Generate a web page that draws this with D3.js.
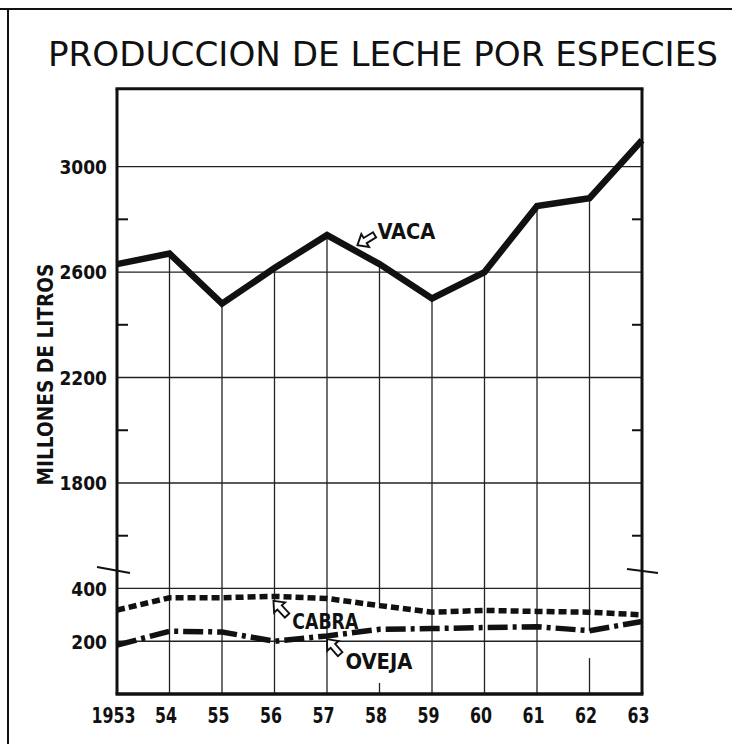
<!DOCTYPE html>
<html><head><meta charset="utf-8">
<script src="https://cdn.jsdelivr.net/npm/d3@7"></script>
<style>
html,body{margin:0;padding:0;background:#fff;}
svg{display:block;}
</style></head>
<body>
<svg id="chart" width="732" height="744"></svg>
<script>
// ---- data ----
const years = [1953,1954,1955,1956,1957,1958,1959,1960,1961,1962,1963];
const yearLabels = ["1953","54","55","56","57","58","59","60","61","62","63"];
const vaca  = [2630,2670,2480,2615,2740,2630,2500,2600,2850,2880,3100];
const cabra = [318,365,365,370,362,335,310,317,313,310,300];
const oveja = [185,238,235,200,220,245,248,252,255,240,275];
const yTickLabels = [3000,2600,2200,1800,400,200];
const yMinorTicks = [2800,2400,2000,1600];
const seriesNames = ["VACA","CABRA","OVEJA"];
const title = "PRODUCCION DE LECHE POR ESPECIES";
const yTitle = "MILLONES DE LITROS";
// annotation anchors in data units: arrow tip + label start
const annYear  = [1957.58, 1955.98, 1957.0];
const annValue = [2702, 353, 208];
const labYear  = [1957.96, 1956.34, 1957.35];
const labValue = [2725, 246, 95];
// gridline gaps (year, from value, to value)
const gapYears = [1958, 1962];
const gapFrom  = [42, 136];
const gapTo    = [337, 239];

// ---- scales ----
const x = d3.scaleLinear().domain([1953,1963]).range([117,642]);
const y = d3.scaleLinear().domain([0,470,1470,3295]).range([694,570,570,88.8]);

const svg = d3.select("#chart");
const ink = "#111";

// outer frame (top & left)
svg.append("line").attr("x1",0).attr("x2",732).attr("y1",9).attr("y2",9).attr("stroke",ink).attr("stroke-width",2);
svg.append("line").attr("x1",8).attr("x2",8).attr("y1",9).attr("y2",744).attr("stroke",ink).attr("stroke-width",2);

// title
svg.append("text").text(title)
  .attr("x",48).attr("y",66)
  .attr("font-family","'DejaVu Sans', sans-serif").attr("font-size",34)
  .attr("textLength",670).attr("lengthAdjust","spacingAndGlyphs")
  .attr("fill",ink);

const gGrid = svg.append("g").attr("stroke","#222").attr("stroke-width",1.3);
// horizontal gridlines
gGrid.selectAll("line.h").data(yTickLabels).join("line")
  .attr("x1",x(1953)).attr("x2",x(1963))
  .attr("y1",d=>y(d)).attr("y2",d=>y(d));
// vertical gridlines from VACA line downward
years.slice(1,-1).forEach((yr,k)=>{
  const i=k+1;
  const gi = gapYears.indexOf(yr);
  if(gi<0){
    gGrid.append("line").attr("x1",x(yr)).attr("x2",x(yr)).attr("y1",y(vaca[i])).attr("y2",y(0));
  } else {
    gGrid.append("line").attr("x1",x(yr)).attr("x2",x(yr)).attr("y1",y(vaca[i])).attr("y2",y(gapTo[gi]));
    gGrid.append("line").attr("x1",x(yr)).attr("x2",x(yr)).attr("y1",y(gapFrom[gi])).attr("y2",y(0));
  }
});

// minor ticks on both sides
const gTicks = svg.append("g").attr("stroke",ink).attr("stroke-width",2);
gTicks.selectAll("line.l").data(yMinorTicks).join("line")
  .attr("x1",x(1953)).attr("x2",x(1953)+11).attr("y1",d=>y(d)).attr("y2",d=>y(d));
gTicks.selectAll("line.r").data(yMinorTicks).join("line").attr("class","r")
  .attr("x1",x(1963)).attr("x2",x(1963)-10).attr("y1",d=>y(d)).attr("y2",d=>y(d));

// frame of plot
const fr = svg.append("g").attr("stroke",ink).attr("fill","none");
fr.append("line").attr("x1",x(1953)-1.5).attr("x2",x(1963)+1.5).attr("y1",y(3295)).attr("y2",y(3295)).attr("stroke-width",3);
fr.append("line").attr("x1",x(1953)-1.5).attr("x2",x(1963)+1.5).attr("y1",y(0)).attr("y2",y(0)).attr("stroke-width",3.5);
fr.append("line").attr("x1",x(1953)).attr("x2",x(1953)).attr("y1",y(3295)).attr("y2",y(0)).attr("stroke-width",3);
fr.append("line").attr("x1",x(1963)).attr("x2",x(1963)).attr("y1",y(3295)).attr("y2",y(0)).attr("stroke-width",3);
// break marks
fr.append("line").attr("x1",x(1953)-20).attr("x2",x(1953)+13).attr("y1",y(470)-3).attr("y2",y(470)+3).attr("stroke-width",2.2);
fr.append("line").attr("x1",x(1963)-15).attr("x2",x(1963)+16).attr("y1",y(470)-1).attr("y2",y(470)+3).attr("stroke-width",2.2);

// series lines
const line = d3.line().x((d,i)=>x(years[i])).y(d=>y(d));
svg.append("path").datum(vaca).attr("d",line).attr("fill","none").attr("stroke",ink)
  .attr("stroke-width",6.5).attr("stroke-linejoin","miter");
svg.append("path").datum(cabra).attr("d",line).attr("fill","none").attr("stroke",ink)
  .attr("stroke-width",5.5).attr("stroke-dasharray","8,4");
svg.append("path").datum(oveja).attr("d",line).attr("fill","none").attr("stroke",ink)
  .attr("stroke-width",5.5).attr("stroke-dasharray","20,5,4,5");

// axes labels
const yAxis = d3.axisLeft(y).tickValues(yTickLabels).tickSize(0).tickPadding(10).tickFormat(d=>String(d));
const gy = svg.append("g").attr("transform",`translate(${x(1953)},0)`).call(yAxis);
gy.select(".domain").remove();
gy.selectAll("text").attr("font-family","'DejaVu Sans Condensed','DejaVu Sans',sans-serif")
  .attr("font-weight","bold").attr("font-size",19).attr("fill",ink).attr("dy","0.36em");

const xAxis = d3.axisBottom(x).tickValues(years).tickSize(0).tickPadding(0).tickFormat((d,i)=>yearLabels[i]);
const gx = svg.append("g").attr("transform",`translate(-4,${y(0)})`).call(xAxis);
gx.select(".domain").remove();
gx.selectAll("text").attr("font-family","'DejaVu Sans Condensed','DejaVu Sans',sans-serif")
  .attr("font-weight","bold").attr("font-size",21).attr("fill",ink).attr("dy",0).attr("y",29)
  .attr("textLength",(d,i)=>yearLabels[i].length*11).attr("lengthAdjust","spacingAndGlyphs");

// y title
svg.append("text").text(yTitle)
  .attr("transform",`translate(53,${(y(2600)+y(1800))/2 - 3}) rotate(-90)`)
  .attr("text-anchor","middle")
  .attr("font-family","'DejaVu Sans Condensed','DejaVu Sans',sans-serif")
  .attr("font-weight","bold").attr("font-size",21)
  .attr("textLength",222).attr("lengthAdjust","spacingAndGlyphs").attr("fill",ink);

// annotations: hollow arrows + labels
const arrowPath = "M0,0 L9,-7.5 L9,-3 L20,-3 L20,3 L9,3 L9,7.5 Z";
const arrowAngle = [-31, 47, 49];
const labelWidth = [58, 66, 67];
seriesNames.forEach((name,i)=>{
  svg.append("path").attr("d",arrowPath)
    .attr("transform",`translate(${x(annYear[i])},${y(annValue[i])}) rotate(${arrowAngle[i]})`)
    .attr("fill","#fff").attr("stroke",ink).attr("stroke-width",1.9).attr("stroke-linejoin","miter");
  svg.append("text").text(name)
    .attr("x",x(labYear[i])).attr("y",y(labValue[i]))
    .attr("font-family","'DejaVu Sans Condensed','DejaVu Sans',sans-serif")
    .attr("font-weight","bold").attr("font-size",22)
    .attr("textLength",labelWidth[i]).attr("lengthAdjust","spacingAndGlyphs").attr("fill",ink);
});
</script>
</body></html>
